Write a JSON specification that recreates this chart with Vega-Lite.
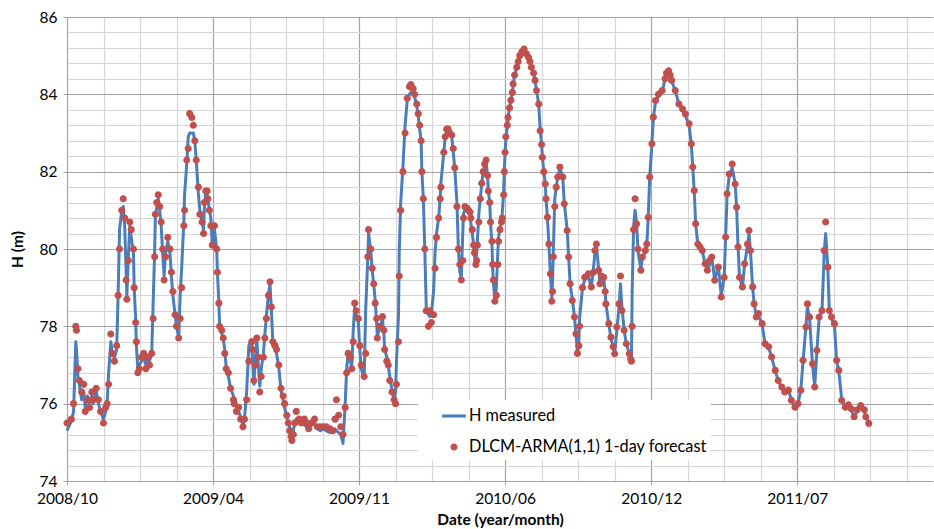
{
"$schema": "https://vega.github.io/schema/vega-lite/v6.json",
"width": 866, "height": 464,
"autosize": {"type": "none"},
"padding": {"left": 67, "top": 17, "right": 1, "bottom": 48},
"background": "white",
"config": {"view": {"stroke": null}, "font": "Lato", "axis": {"labelFont": "Lato", "titleFont": "Lato", "labelColor": "#000", "titleColor": "#000"}},
"data": {"values": [
{"d":"2008-10-10","H":75.3,"F":75.5},{"d":"2008-10-16","H":75.55,"F":75.6},{"d":"2008-10-19","H":75.8,"F":76.0},{"d":"2008-10-22","H":77.6,"F":78.0},{"d":"2008-10-23","H":77.4,"F":77.9},{"d":"2008-10-25","H":76.7,"F":76.9},{"d":"2008-10-27","H":76.5,"F":76.6},{"d":"2008-10-30","H":76.1,"F":76.3},{"d":"2008-11-02","H":76.3,"F":76.5},{"d":"2008-11-04","H":75.9,"F":75.8},{"d":"2008-11-07","H":76.2,"F":76.1},{"d":"2008-11-10","H":76.0,"F":75.9},{"d":"2008-11-13","H":76.2,"F":76.3},{"d":"2008-11-15","H":76.0,"F":76.1},{"d":"2008-11-19","H":76.35,"F":76.4},{"d":"2008-11-22","H":76.0,"F":76.1},{"d":"2008-11-25","H":75.8,"F":75.8},{"d":"2008-11-29","H":75.6,"F":75.5},{"d":"2008-12-02","H":75.8,"F":75.9},{"d":"2008-12-04","H":76.0,"F":76.0},{"d":"2008-12-06","H":76.8,"F":76.5},{"d":"2008-12-09","H":77.6,"F":77.8},{"d":"2008-12-11","H":77.3,"F":77.3},{"d":"2008-12-14","H":77.2,"F":77.1},{"d":"2008-12-17","H":77.4,"F":77.5},{"d":"2008-12-19","H":78.8,"F":78.8},{"d":"2008-12-21","H":80.5,"F":80.0},{"d":"2008-12-24","H":81.0,"F":81.0},{"d":"2008-12-26","H":81.1,"F":81.3},{"d":"2008-12-28","H":80.6,"F":80.8},{"d":"2008-12-30","H":79.4,"F":79.2},{"d":"2008-12-31","H":78.8,"F":78.7},
{"d":"2009-01-02","H":79.8,"F":79.7},{"d":"2009-01-04","H":80.6,"F":80.7},{"d":"2009-01-06","H":80.3,"F":80.5},{"d":"2009-01-09","H":79.9,"F":80.0},{"d":"2009-01-10","H":79.0,"F":79.0},{"d":"2009-01-12","H":78.2,"F":78.1},{"d":"2009-01-13","H":77.5,"F":77.6},{"d":"2009-01-15","H":76.9,"F":76.8},{"d":"2009-01-17","H":77.0,"F":76.9},{"d":"2009-01-20","H":77.1,"F":77.2},{"d":"2009-01-23","H":77.2,"F":77.3},{"d":"2009-01-26","H":77.0,"F":76.9},{"d":"2009-01-28","H":77.1,"F":77.2},{"d":"2009-01-31","H":77.1,"F":77.0},{"d":"2009-02-03","H":77.3,"F":77.3},{"d":"2009-02-05","H":78.6,"F":78.2},{"d":"2009-02-07","H":79.9,"F":79.8},{"d":"2009-02-08","H":80.8,"F":80.9},{"d":"2009-02-10","H":81.1,"F":81.2},{"d":"2009-02-12","H":81.3,"F":81.4},{"d":"2009-02-14","H":81.0,"F":81.1},{"d":"2009-02-16","H":80.6,"F":80.7},{"d":"2009-02-18","H":79.9,"F":80.0},{"d":"2009-02-20","H":79.3,"F":79.2},{"d":"2009-02-22","H":79.9,"F":79.8},{"d":"2009-02-25","H":80.2,"F":80.3},{"d":"2009-02-28","H":79.9,"F":80.0},{"d":"2009-03-02","H":79.3,"F":79.4},{"d":"2009-03-04","H":78.8,"F":78.9},{"d":"2009-03-07","H":78.3,"F":78.3},{"d":"2009-03-09","H":78.0,"F":78.0},{"d":"2009-03-12","H":77.7,"F":77.7},{"d":"2009-03-14","H":78.8,"F":78.2},{"d":"2009-03-16","H":79.5,"F":79.0},{"d":"2009-03-19","H":80.7,"F":80.6},{"d":"2009-03-20","H":81.4,"F":81.0},{"d":"2009-03-23","H":82.2,"F":82.3},{"d":"2009-03-25","H":82.9,"F":82.6},{"d":"2009-03-27","H":83.0,"F":83.5},{"d":"2009-03-30","H":83.0,"F":83.4},{"d":"2009-04-01","H":83.0,"F":83.2},{"d":"2009-04-03","H":82.8,"F":82.8},{"d":"2009-04-05","H":82.3,"F":82.3},{"d":"2009-04-08","H":81.4,"F":81.6},{"d":"2009-04-10","H":81.0,"F":80.9},{"d":"2009-04-13","H":80.7,"F":80.7},{"d":"2009-04-15","H":80.5,"F":80.4},{"d":"2009-04-16","H":81.0,"F":81.2},{"d":"2009-04-18","H":81.5,"F":81.5},{"d":"2009-04-20","H":81.4,"F":81.5},{"d":"2009-04-21","H":81.3,"F":81.3},{"d":"2009-04-23","H":81.0,"F":81.0},{"d":"2009-04-25","H":80.8,"F":80.6},{"d":"2009-04-27","H":80.1,"F":80.1},{"d":"2009-04-30","H":80.5,"F":80.6},{"d":"2009-05-03","H":80.0,"F":80.0},{"d":"2009-05-04","H":79.4,"F":79.4},{"d":"2009-05-06","H":78.6,"F":78.6},{"d":"2009-05-07","H":78.0,"F":78.0},{"d":"2009-05-10","H":77.8,"F":77.9},{"d":"2009-05-12","H":77.7,"F":77.7},{"d":"2009-05-14","H":77.4,"F":77.3},{"d":"2009-05-16","H":76.95,"F":76.9},{"d":"2009-05-19","H":76.7,"F":76.8},{"d":"2009-05-22","H":76.4,"F":76.4},{"d":"2009-05-26","H":76.2,"F":76.1},{"d":"2009-05-27","H":76.1,"F":76.0},{"d":"2009-05-30","H":75.9,"F":75.8},{"d":"2009-06-02","H":75.8,"F":75.9},{"d":"2009-06-05","H":75.65,"F":75.6},{"d":"2009-06-08","H":75.45,"F":75.4},{"d":"2009-06-10","H":75.6,"F":75.6},{"d":"2009-06-13","H":76.3,"F":76.1},{"d":"2009-06-16","H":77.5,"F":77.1},{"d":"2009-06-20","H":77.65,"F":77.6},{"d":"2009-06-21","H":77.2,"F":77.4},{"d":"2009-06-23","H":76.5,"F":76.6},{"d":"2009-06-25","H":77.2,"F":77.0},{"d":"2009-06-27","H":77.65,"F":77.7},{"d":"2009-06-29","H":77.0,"F":77.2},{"d":"2009-07-01","H":76.45,"F":76.3},{"d":"2009-07-03","H":76.9,"F":76.7},{"d":"2009-07-06","H":77.3,"F":77.2},{"d":"2009-07-08","H":77.8,"F":77.7},{"d":"2009-07-10","H":78.25,"F":78.2},{"d":"2009-07-13","H":78.85,"F":78.8},{"d":"2009-07-15","H":79.1,"F":79.15},{"d":"2009-07-17","H":78.4,"F":78.5},{"d":"2009-07-19","H":77.5,"F":77.6},{"d":"2009-07-22","H":77.4,"F":77.5},{"d":"2009-07-24","H":77.3,"F":77.4},{"d":"2009-07-27","H":76.95,"F":77.0},{"d":"2009-07-30","H":76.35,"F":76.4},{"d":"2009-08-02","H":76.1,"F":76.2},{"d":"2009-08-04","H":75.9,"F":76.0},{"d":"2009-08-07","H":75.65,"F":75.7},{"d":"2009-08-09","H":75.5,"F":75.5},{"d":"2009-08-11","H":75.4,"F":75.3},{"d":"2009-08-13","H":75.2,"F":75.15},{"d":"2009-08-14","H":75.15,"F":75.05},{"d":"2009-08-16","H":75.3,"F":75.2},{"d":"2009-08-18","H":75.5,"F":75.5},{"d":"2009-08-20","H":75.6,"F":75.8},{"d":"2009-08-24","H":75.55,"F":75.6},{"d":"2009-08-27","H":75.5,"F":75.5},{"d":"2009-08-31","H":75.45,"F":75.6},{"d":"2009-09-03","H":75.4,"F":75.5},{"d":"2009-09-06","H":75.4,"F":75.35},{"d":"2009-09-10","H":75.45,"F":75.5},{"d":"2009-09-14","H":75.5,"F":75.6},{"d":"2009-09-18","H":75.35,"F":75.4},{"d":"2009-09-22","H":75.3,"F":75.4},{"d":"2009-09-26","H":75.35,"F":75.4},{"d":"2009-09-30","H":75.3,"F":75.4},{"d":"2009-10-05","H":75.25,"F":75.35},{"d":"2009-10-09","H":75.3,"F":75.3},{"d":"2009-10-12","H":75.35,"F":75.6},{"d":"2009-10-14","H":75.3,"F":76.1},{"d":"2009-10-17","H":75.25,"F":75.7},{"d":"2009-10-20","H":75.2,"F":75.4},{"d":"2009-10-23","H":74.97,"F":75.2},{"d":"2009-10-26","H":76.0,"F":75.9},{"d":"2009-10-28","H":76.9,"F":76.8},{"d":"2009-10-30","H":77.3,"F":77.3},{"d":"2009-11-02","H":77.1,"F":77.2},{"d":"2009-11-04","H":76.95,"F":76.9},{"d":"2009-11-06","H":77.9,"F":77.6},{"d":"2009-11-08","H":78.5,"F":78.6},{"d":"2009-11-10","H":78.3,"F":78.4},{"d":"2009-11-13","H":78.1,"F":78.2},{"d":"2009-11-15","H":77.4,"F":77.5},{"d":"2009-11-17","H":76.9,"F":77.0},{"d":"2009-11-21","H":76.65,"F":76.7},{"d":"2009-11-23","H":78.4,"F":77.3},{"d":"2009-11-26","H":79.8,"F":79.8},{"d":"2009-11-27","H":80.4,"F":80.5},{"d":"2009-11-30","H":79.95,"F":80.0},{"d":"2009-12-02","H":79.45,"F":79.5},{"d":"2009-12-04","H":79.1,"F":79.1},{"d":"2009-12-06","H":78.7,"F":78.6},{"d":"2009-12-08","H":78.1,"F":78.2},{"d":"2009-12-09","H":77.75,"F":77.7},{"d":"2009-12-12","H":77.95,"F":78.0},{"d":"2009-12-16","H":78.2,"F":78.25},{"d":"2009-12-18","H":77.8,"F":77.9},{"d":"2009-12-19","H":77.4,"F":77.4},{"d":"2009-12-22","H":77.2,"F":77.1},{"d":"2009-12-24","H":77.0,"F":77.0},{"d":"2009-12-26","H":76.7,"F":76.6},{"d":"2009-12-29","H":76.35,"F":76.3},
{"d":"2010-01-01","H":76.1,"F":76.1},{"d":"2010-01-03","H":76.3,"F":76.0},{"d":"2010-01-04","H":77.0,"F":76.5},{"d":"2010-01-07","H":78.3,"F":77.6},{"d":"2010-01-08","H":79.9,"F":79.3},{"d":"2010-01-10","H":81.2,"F":81.0},{"d":"2010-01-13","H":82.1,"F":82.0},{"d":"2010-01-16","H":83.2,"F":83.0},{"d":"2010-01-19","H":83.85,"F":83.9},{"d":"2010-01-22","H":84.0,"F":84.2},{"d":"2010-01-24","H":84.05,"F":84.25},{"d":"2010-01-27","H":84.0,"F":84.15},{"d":"2010-01-29","H":83.95,"F":84.0},{"d":"2010-02-01","H":83.7,"F":83.75},{"d":"2010-02-03","H":83.45,"F":83.5},{"d":"2010-02-05","H":83.1,"F":83.2},{"d":"2010-02-07","H":82.8,"F":82.8},{"d":"2010-02-08","H":82.0,"F":82.0},{"d":"2010-02-10","H":81.3,"F":81.3},{"d":"2010-02-12","H":80.0,"F":80.0},{"d":"2010-02-14","H":78.5,"F":78.4},{"d":"2010-02-17","H":78.3,"F":78.0},{"d":"2010-02-19","H":78.25,"F":78.4},{"d":"2010-02-21","H":78.3,"F":78.1},{"d":"2010-02-24","H":78.9,"F":78.3},{"d":"2010-02-26","H":79.9,"F":79.5},{"d":"2010-02-28","H":80.4,"F":80.3},{"d":"2010-03-03","H":80.8,"F":80.8},{"d":"2010-03-05","H":81.3,"F":81.3},{"d":"2010-03-06","H":81.7,"F":81.6},{"d":"2010-03-10","H":82.5,"F":82.5},{"d":"2010-03-12","H":82.9,"F":82.9},{"d":"2010-03-14","H":83.05,"F":83.1},{"d":"2010-03-16","H":83.1,"F":83.1},{"d":"2010-03-18","H":83.0,"F":83.0},{"d":"2010-03-21","H":82.9,"F":82.95},{"d":"2010-03-23","H":82.5,"F":82.6},{"d":"2010-03-25","H":82.1,"F":82.1},{"d":"2010-03-28","H":81.2,"F":81.1},{"d":"2010-03-30","H":80.0,"F":80.0},{"d":"2010-04-01","H":79.4,"F":79.6},{"d":"2010-04-03","H":79.25,"F":79.2},{"d":"2010-04-05","H":80.4,"F":79.7},{"d":"2010-04-06","H":80.9,"F":80.8},{"d":"2010-04-08","H":81.05,"F":81.1},{"d":"2010-04-11","H":81.0,"F":81.05},{"d":"2010-04-13","H":80.95,"F":81.0},{"d":"2010-04-15","H":80.9,"F":80.95},{"d":"2010-04-16","H":80.7,"F":80.8},{"d":"2010-04-18","H":80.4,"F":80.5},{"d":"2010-04-20","H":80.1,"F":80.1},{"d":"2010-04-21","H":79.8,"F":79.9},{"d":"2010-04-23","H":79.7,"F":79.6},{"d":"2010-04-24","H":79.9,"F":79.7},{"d":"2010-04-25","H":80.2,"F":80.1},{"d":"2010-04-27","H":80.9,"F":80.7},{"d":"2010-04-29","H":81.3,"F":81.3},{"d":"2010-05-01","H":81.7,"F":81.7},{"d":"2010-05-03","H":82.0,"F":82.0},{"d":"2010-05-05","H":82.2,"F":82.2},{"d":"2010-05-07","H":82.25,"F":82.3},{"d":"2010-05-09","H":81.9,"F":81.9},{"d":"2010-05-10","H":81.5,"F":81.5},{"d":"2010-05-12","H":81.2,"F":81.2},{"d":"2010-05-13","H":80.7,"F":80.7},{"d":"2010-05-15","H":80.1,"F":80.2},{"d":"2010-05-16","H":79.5,"F":79.6},{"d":"2010-05-17","H":79.1,"F":79.2},{"d":"2010-05-19","H":78.7,"F":78.65},{"d":"2010-05-21","H":79.0,"F":78.8},{"d":"2010-05-23","H":79.9,"F":79.6},{"d":"2010-05-24","H":80.3,"F":80.2},{"d":"2010-05-26","H":80.55,"F":80.5},{"d":"2010-05-28","H":80.7,"F":80.7},{"d":"2010-05-29","H":80.9,"F":80.8},{"d":"2010-05-31","H":81.5,"F":81.4},{"d":"2010-06-01","H":82.1,"F":82.0},{"d":"2010-06-02","H":82.5,"F":82.5},{"d":"2010-06-03","H":82.85,"F":82.9},{"d":"2010-06-05","H":83.15,"F":83.2},{"d":"2010-06-06","H":83.4,"F":83.4},{"d":"2010-06-08","H":83.65,"F":83.65},{"d":"2010-06-10","H":83.85,"F":83.85},{"d":"2010-06-12","H":84.05,"F":84.05},{"d":"2010-06-13","H":84.25,"F":84.27},{"d":"2010-06-15","H":84.5,"F":84.5},{"d":"2010-06-18","H":84.7,"F":84.7},{"d":"2010-06-20","H":84.85,"F":84.85},{"d":"2010-06-22","H":85.0,"F":85.0},{"d":"2010-06-25","H":85.1,"F":85.1},{"d":"2010-06-28","H":85.15,"F":85.17},{"d":"2010-07-01","H":85.05,"F":85.05},{"d":"2010-07-04","H":84.95,"F":84.96},{"d":"2010-07-06","H":84.85,"F":84.85},{"d":"2010-07-08","H":84.7,"F":84.7},{"d":"2010-07-11","H":84.55,"F":84.55},{"d":"2010-07-13","H":84.35,"F":84.36},{"d":"2010-07-15","H":84.1,"F":84.1},{"d":"2010-07-18","H":83.75,"F":83.75},{"d":"2010-07-20","H":83.1,"F":83.06},{"d":"2010-07-22","H":82.7,"F":82.7},{"d":"2010-07-23","H":82.4,"F":82.37},{"d":"2010-07-25","H":82.0,"F":82.0},{"d":"2010-07-27","H":81.7,"F":81.68},{"d":"2010-07-28","H":81.3,"F":81.3},{"d":"2010-07-30","H":80.8,"F":80.82},{"d":"2010-08-01","H":80.1,"F":80.13},{"d":"2010-08-03","H":79.35,"F":79.36},{"d":"2010-08-05","H":78.75,"F":78.65},{"d":"2010-08-06","H":79.2,"F":78.9},{"d":"2010-08-07","H":79.9,"F":79.8},{"d":"2010-08-09","H":81.3,"F":81.1},{"d":"2010-08-11","H":81.6,"F":81.6},{"d":"2010-08-13","H":81.85,"F":81.86},{"d":"2010-08-16","H":82.1,"F":82.12},{"d":"2010-08-20","H":81.85,"F":81.86},{"d":"2010-08-22","H":81.2,"F":81.17},{"d":"2010-08-26","H":80.5,"F":80.48},{"d":"2010-08-28","H":79.8,"F":79.79},{"d":"2010-08-30","H":79.1,"F":79.1},{"d":"2010-09-02","H":78.7,"F":78.67},{"d":"2010-09-05","H":78.25,"F":78.24},{"d":"2010-09-07","H":77.8,"F":77.81},{"d":"2010-09-09","H":77.35,"F":77.3},{"d":"2010-09-11","H":77.6,"F":77.5},{"d":"2010-09-12","H":78.2,"F":78.0},{"d":"2010-09-16","H":79.0,"F":79.0},{"d":"2010-09-19","H":79.2,"F":79.27},{"d":"2010-09-24","H":79.3,"F":79.36},{"d":"2010-09-28","H":79.0,"F":79.02},{"d":"2010-10-01","H":79.5,"F":79.4},{"d":"2010-10-03","H":79.9,"F":79.96},{"d":"2010-10-05","H":80.1,"F":80.13},{"d":"2010-10-08","H":79.5,"F":79.45},{"d":"2010-10-10","H":79.1,"F":79.1},{"d":"2010-10-12","H":79.2,"F":79.3},{"d":"2010-10-15","H":79.25,"F":79.27},{"d":"2010-10-17","H":78.9,"F":78.9},{"d":"2010-10-18","H":78.6,"F":78.58},{"d":"2010-10-22","H":78.05,"F":78.07},{"d":"2010-10-25","H":77.7,"F":77.72},{"d":"2010-10-28","H":77.45,"F":77.47},{"d":"2010-10-30","H":77.3,"F":77.29},{"d":"2010-11-02","H":77.9,"F":77.98},{"d":"2010-11-05","H":78.5,"F":78.58},{"d":"2010-11-07","H":79.1,"F":79.3},{"d":"2010-11-09","H":78.5,"F":78.41},{"d":"2010-11-12","H":77.9,"F":77.9},{"d":"2010-11-15","H":77.55,"F":77.55},{"d":"2010-11-19","H":77.3,"F":77.29},{"d":"2010-11-21","H":77.15,"F":77.15},{"d":"2010-11-22","H":77.1,"F":77.1},{"d":"2010-11-23","H":78.9,"F":78.0},{"d":"2010-11-25","H":80.6,"F":80.5},{"d":"2010-11-27","H":81.0,"F":81.3},{"d":"2010-11-29","H":80.7,"F":80.65},{"d":"2010-12-01","H":79.95,"F":80.0},{"d":"2010-12-05","H":79.45,"F":79.45},{"d":"2010-12-07","H":79.8,"F":79.79},{"d":"2010-12-11","H":79.9,"F":79.96},{"d":"2010-12-13","H":80.1,"F":80.13},{"d":"2010-12-15","H":80.8,"F":80.82},{"d":"2010-12-17","H":81.85,"F":81.86},{"d":"2010-12-20","H":82.7,"F":82.72},{"d":"2010-12-22","H":83.4,"F":83.41},{"d":"2010-12-25","H":83.8,"F":83.84},{"d":"2010-12-29","H":83.95,"F":84.0},
{"d":"2011-01-03","H":84.05,"F":84.1},{"d":"2011-01-07","H":84.4,"F":84.4},{"d":"2011-01-09","H":84.55,"F":84.55},{"d":"2011-01-12","H":84.6,"F":84.61},{"d":"2011-01-14","H":84.5,"F":84.5},{"d":"2011-01-16","H":84.35,"F":84.36},{"d":"2011-01-21","H":84.1,"F":84.1},{"d":"2011-01-26","H":83.75,"F":83.75},{"d":"2011-01-31","H":83.6,"F":83.62},{"d":"2011-02-04","H":83.45,"F":83.49},{"d":"2011-02-09","H":83.2,"F":83.24},{"d":"2011-02-12","H":82.7,"F":82.72},{"d":"2011-02-14","H":82.1,"F":82.12},{"d":"2011-02-16","H":81.5,"F":81.51},{"d":"2011-02-18","H":80.65,"F":80.65},{"d":"2011-02-21","H":80.1,"F":80.13},{"d":"2011-02-24","H":80.0,"F":80.05},{"d":"2011-02-27","H":79.95,"F":79.96},{"d":"2011-03-03","H":79.6,"F":79.62},{"d":"2011-03-06","H":79.45,"F":79.45},{"d":"2011-03-09","H":79.6,"F":79.7},{"d":"2011-03-12","H":79.8,"F":79.79},{"d":"2011-03-16","H":79.2,"F":79.19},{"d":"2011-03-21","H":79.55,"F":79.53},{"d":"2011-03-25","H":78.8,"F":78.76},{"d":"2011-03-29","H":79.25,"F":79.27},{"d":"2011-03-31","H":80.3,"F":80.31},{"d":"2011-04-02","H":81.4,"F":81.43},{"d":"2011-04-05","H":81.9,"F":81.94},{"d":"2011-04-09","H":82.1,"F":82.2},{"d":"2011-04-13","H":81.7,"F":81.68},{"d":"2011-04-15","H":81.1,"F":81.08},{"d":"2011-04-17","H":80.05,"F":80.05},{"d":"2011-04-19","H":79.3,"F":79.27},{"d":"2011-04-23","H":79.0,"F":79.02},{"d":"2011-04-26","H":79.6,"F":79.62},{"d":"2011-04-30","H":80.1,"F":80.13},{"d":"2011-05-02","H":80.4,"F":80.48},{"d":"2011-05-04","H":79.95,"F":79.96},{"d":"2011-05-07","H":79.0,"F":79.02},{"d":"2011-05-09","H":78.6,"F":78.58},{"d":"2011-05-12","H":78.25,"F":78.24},{"d":"2011-05-15","H":78.3,"F":78.33},{"d":"2011-05-20","H":78.05,"F":78.07},{"d":"2011-05-24","H":77.55,"F":77.55},{"d":"2011-05-29","H":77.45,"F":77.47},{"d":"2011-06-02","H":77.2,"F":77.21},{"d":"2011-06-07","H":76.85,"F":76.86},{"d":"2011-06-11","H":76.6,"F":76.6},{"d":"2011-06-16","H":76.4,"F":76.43},{"d":"2011-06-20","H":76.3,"F":76.3},{"d":"2011-06-25","H":76.35,"F":76.35},{"d":"2011-06-29","H":76.1,"F":76.09},{"d":"2011-07-04","H":75.9,"F":75.91},{"d":"2011-07-08","H":76.0,"F":76.0},{"d":"2011-07-12","H":76.35,"F":76.35},{"d":"2011-07-15","H":77.1,"F":77.12},{"d":"2011-07-19","H":78.0,"F":77.98},{"d":"2011-07-21","H":78.5,"F":78.58},{"d":"2011-07-24","H":78.2,"F":78.24},{"d":"2011-07-28","H":77.0,"F":77.03},{"d":"2011-07-31","H":76.45,"F":76.43},{"d":"2011-08-03","H":77.35,"F":77.38},{"d":"2011-08-06","H":78.2,"F":78.24},{"d":"2011-08-10","H":78.4,"F":78.41},{"d":"2011-08-13","H":79.9,"F":79.96},{"d":"2011-08-15","H":80.4,"F":80.7},{"d":"2011-08-18","H":79.5,"F":79.53},{"d":"2011-08-20","H":78.4,"F":78.41},{"d":"2011-08-23","H":78.2,"F":78.24},{"d":"2011-08-27","H":78.05,"F":78.07},{"d":"2011-08-30","H":77.1,"F":77.12},{"d":"2011-09-02","H":76.85,"F":76.86},{"d":"2011-09-06","H":76.1,"F":76.09},{"d":"2011-09-11","H":75.9,"F":75.91},{"d":"2011-09-15","H":75.95,"F":75.97},{"d":"2011-09-19","H":75.85,"F":75.87},{"d":"2011-09-23","H":75.65,"F":75.66},{"d":"2011-09-27","H":75.8,"F":75.84},{"d":"2011-10-02","H":75.9,"F":75.95},{"d":"2011-10-07","H":75.8,"F":75.84},{"d":"2011-10-09","H":75.65,"F":75.66},{"d":"2011-10-13","H":75.5,"F":75.49}
]},
"transform": [{"fold": ["H", "F"], "as": ["series", "val"]}],
"encoding": {
  "x": {"field": "d", "type": "temporal",
    "scale": {"type": "utc", "nice": false, "domain": [{"year":2008,"month":10,"date":10,"utc":true},{"year":2012,"month":1,"date":9,"utc":true}]},
    "axis": {"title": "Date (year/month)",
      "values": [{"year":2008,"month":10,"date":10,"utc":true},{"year":2008,"month":11,"date":29,"utc":true},{"year":2009,"month":1,"date":18,"utc":true},{"year":2009,"month":3,"date":9,"utc":true},{"year":2009,"month":4,"date":28,"utc":true},{"year":2009,"month":6,"date":17,"utc":true},{"year":2009,"month":8,"date":6,"utc":true},{"year":2009,"month":9,"date":25,"utc":true},{"year":2009,"month":11,"date":14,"utc":true},{"year":2010,"month":1,"date":3,"utc":true},{"year":2010,"month":2,"date":22,"utc":true},{"year":2010,"month":4,"date":13,"utc":true},{"year":2010,"month":6,"date":2,"utc":true},{"year":2010,"month":7,"date":22,"utc":true},{"year":2010,"month":9,"date":10,"utc":true},{"year":2010,"month":10,"date":30,"utc":true},{"year":2010,"month":12,"date":19,"utc":true},{"year":2011,"month":2,"date":7,"utc":true},{"year":2011,"month":3,"date":29,"utc":true},{"year":2011,"month":5,"date":18,"utc":true},{"year":2011,"month":7,"date":7,"utc":true},{"year":2011,"month":8,"date":26,"utc":true},{"year":2011,"month":10,"date":15,"utc":true},{"year":2011,"month":12,"date":4,"utc":true}],
      "labelExpr": "round((datum.value - utc(2008,9,10))/864e5) % 200 == 0 ? utcFormat(datum.value, '%Y/%m') : ''",
      "grid": true,
      "gridColor": {"condition": {"test": "round((datum.value - utc(2008,9,10))/864e5) % 200 == 0", "value": "#a3a3a3"}, "value": "#d6d6d6"},
      "gridWidth": 1.2,
      "tickColor": {"condition": {"test": "round((datum.value - utc(2008,9,10))/864e5) % 200 == 0", "value": "#a3a3a3"}, "value": "transparent"},
      "tickSize": 4, "domain": false, "labelFlush": false, "labelOverlap": false, "labelBound": false,
      "labelPadding": 6, "labelFontSize": 15.5, "titleFontSize": 15.5, "titleFontWeight": "bold", "titlePadding": 6}},
  "y": {"field": "val", "type": "quantitative",
    "scale": {"domain": [74, 86], "nice": false, "zero": false},
    "axis": {"title": "H (m)",
      "values": [74,74.4,74.8,75.2,75.6,76,76.4,76.8,77.2,77.6,78,78.4,78.8,79.2,79.6,80,80.4,80.8,81.2,81.6,82,82.4,82.8,83.2,83.6,84,84.4,84.8,85.2,85.6,86],
      "labelExpr": "datum.value % 2 == 0 ? format(datum.value, 'd') : ''",
      "grid": true,
      "gridColor": {"condition": {"test": "datum.value % 2 == 0", "value": "#a3a3a3"}, "value": "#d6d6d6"},
      "gridWidth": 1.2,
      "tickColor": {"condition": {"test": "datum.value % 2 == 0", "value": "#a3a3a3"}, "value": "transparent"},
      "tickSize": 4, "domain": false, "labelOverlap": false, "labelFlush": false, "labelBound": false,
      "labelPadding": 6, "labelFontSize": 15.5, "titleFontSize": 15.5, "titleFontWeight": "bold", "titlePadding": 14}}
},
"layer": [
  {"transform": [{"filter": "datum.series == 'H'"}],
   "mark": {"type": "line", "color": "#4A7EBB", "strokeWidth": 3, "strokeJoin": "round"}},
  {"transform": [{"filter": "datum.series == 'F'"}],
   "mark": {"type": "point", "filled": true, "opacity": 1, "size": 560},
   "encoding": {
     "color": {"field": "series", "type": "nominal",
       "scale": {"domain": ["H", "F"], "range": ["#4A7EBB", "#C0504D"]},
       "legend": {"title": null, "orient": "none", "legendX": 351, "legendY": 383, "fillColor": "white", "padding": 4, "symbolOffset": 20, "labelOffset": 3, "rowPadding": 10, "labelFontSize": 16.3, "labelFont": "Lato", "labelColor": "#000", "symbolSize": 560, "symbolOpacity": 1, "symbolStrokeWidth": 0, "labelLimit": 500,
         "labelExpr": "datum.value == 'H' ? 'H measured' : 'DLCM-ARMA(1,1) 1-day forecast\u00a0\u00a0\u00a0\u00a0\u00a0\u00a0\u00a0\u00a0'"}},
     "shape": {"field": "series", "type": "nominal",
       "scale": {"domain": ["H", "F"], "range": ["M-1,-0.13L1,-0.13L1,0.13L-1,0.13Z", "M-0.3,0A0.3,0.3,0,1,0,0.3,0A0.3,0.3,0,1,0,-0.3,0Z"]},
       "legend": {"title": null, "orient": "none", "legendX": 351, "legendY": 383, "fillColor": "white", "padding": 4, "symbolOffset": 20, "labelOffset": 3, "rowPadding": 10, "labelFontSize": 16.3, "labelFont": "Lato", "labelColor": "#000", "symbolSize": 560, "symbolOpacity": 1, "symbolStrokeWidth": 0, "labelLimit": 500,
         "labelExpr": "datum.value == 'H' ? 'H measured' : 'DLCM-ARMA(1,1) 1-day forecast\u00a0\u00a0\u00a0\u00a0\u00a0\u00a0\u00a0\u00a0'"}}
   }}
]
}
